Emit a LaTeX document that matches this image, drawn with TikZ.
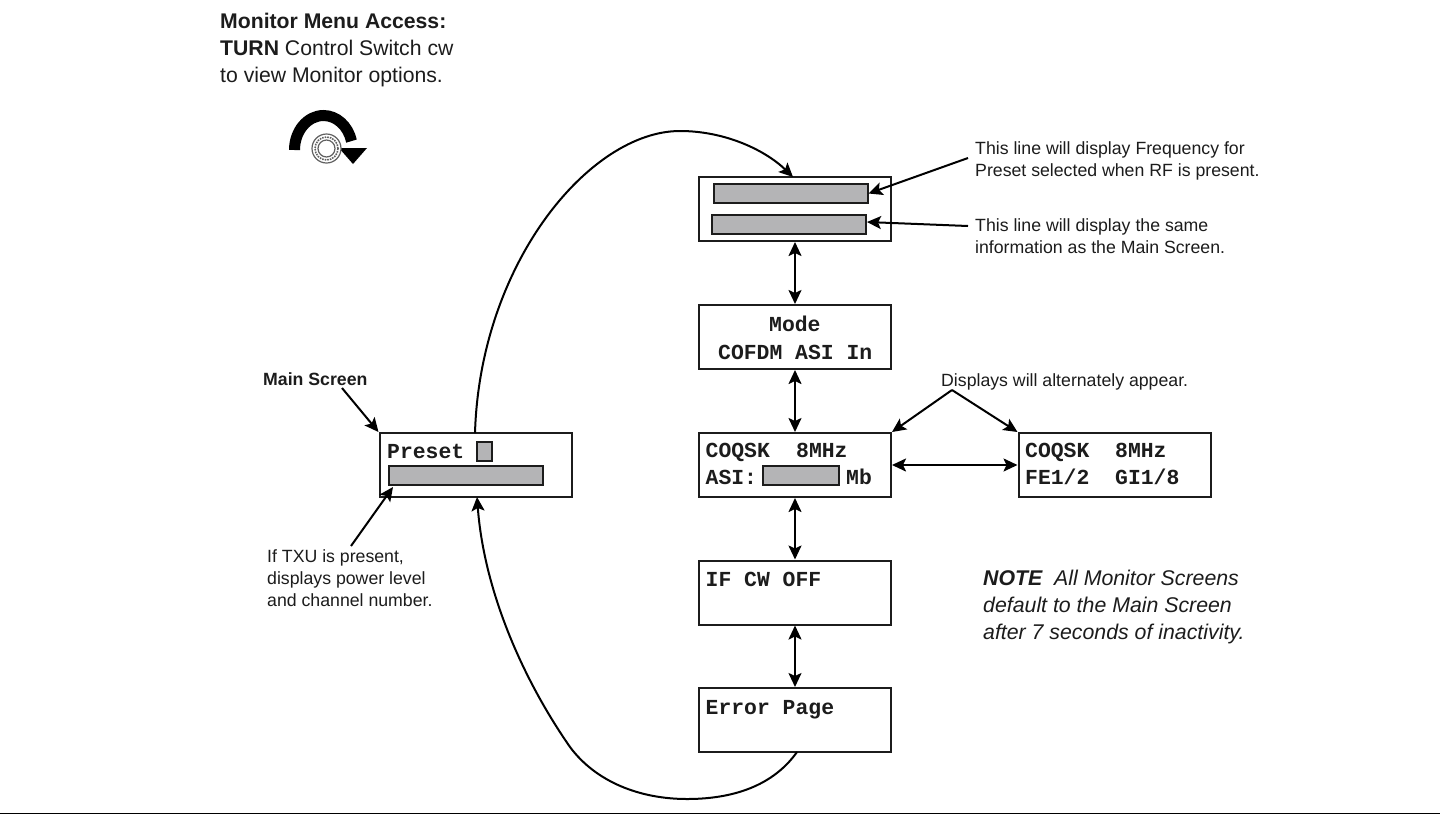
\documentclass[tikz,border=0pt]{standalone}
\usepackage{fontspec}
\setmainfont{Liberation Sans}
\setmonofont{Liberation Mono}
\usetikzlibrary{arrows.meta}
\definecolor{barfill}{HTML}{B4B4B6}
\definecolor{ink}{HTML}{1C1C1C}
\tikzset{
  x=1pt,y=-1pt,
  screen/.style={draw=ink,line width=2pt,fill=white,minimum width=192pt,minimum height=64pt,inner sep=0pt},
  bar/.style={draw=ink,line width=2pt,fill=barfill,inner sep=0pt},
  mono/.style={font=\fontsize{21.4}{24}\ttfamily\bfseries,text=ink,inner sep=0pt,anchor=base west},
  note/.style={font=\fontsize{17.7}{22.5}\selectfont,text=ink,inner sep=0pt,align=left,anchor=north west},
  link/.style={draw=black,line width=2pt,-{Stealth[length=14pt,width=13pt,inset=3pt]}},
  dlink/.style={draw=black,line width=2pt,{Stealth[length=14pt,width=13pt,inset=3pt]}-{Stealth[length=14pt,width=13pt,inset=3pt]}},
}
\begin{document}
\begin{tikzpicture}
\useasboundingbox (0,0) rectangle (1440,815);
\fill[white] (0,0) rectangle (1440,815);
\coordinate (ruleL) at (0,813.5);
\coordinate (ruleR) at (1440,813.5);
\draw[black,line width=1.8pt] (ruleL) -- (ruleR);

% screens
\node[screen] (top) at (795,209) {};
\node[screen] (mode) at (795,337) {};
\node[screen] (asi) at (795,465) {};
\node[screen] (alt) at (1114.5,465) {};
\node[screen] (ifcw) at (795,592.5) {};
\node[screen] (err) at (795,720) {};
\node[screen] (main) at (475.5,465) {};

% bars
\node[bar,minimum width=154pt,minimum height=19pt] (topA) at (790.5,193.5) {};
\node[bar,minimum width=154pt,minimum height=19pt] (topB) at (789,224.5) {};
\node[bar,minimum width=76pt,minimum height=19pt] (asibar) at (801,475) {};
\node[bar,minimum width=15pt,minimum height=19pt] (presetbox) at (484,451.5) {};
\node[bar,minimum width=154pt,minimum height=19pt] (mainbar) at (465.5,475) {};

% screen texts
\node[mono] (t1) at (769,331) {Mode};
\node[mono] (t2) at (718,359) {COFDM ASI In};
\node[mono] (t3) at (705.5,457) {COQSK};
\node[mono] (t3b) at (796,457) {8MHz};
\node[mono] (t4) at (705.5,484) {ASI:};
\node[mono] (t5) at (846,484) {Mb};
\node[mono] (t6) at (1025,457) {COQSK};
\node[mono] (t6b) at (1115,457) {8MHz};
\node[mono] (t7) at (1025,484) {FE1/2};
\node[mono] (t7b) at (1115,484) {GI1/8};
\node[mono] (t8) at (705.5,586) {IF CW OFF};
\node[mono] (t9) at (705.5,714) {Error Page};
\node[mono] (t10) at (387,458) {Preset};

% free text
\node[note,font=\fontsize{21.2}{27}\selectfont] (head) at (220,13) {\textbf{Monitor Menu Access:}\\\textbf{TURN} Control Switch cw\\to view Monitor options.};
\node[note] (freq) at (975,141) {This line will display Frequency for\\Preset selected when RF is present.};
\node[note] (same) at (975,218) {This line will display the same\\information as the Main Screen.};
\node[note] (disp) at (941,373) {Displays will alternately appear.};
\node[note,font=\fontsize{17.7}{23}\selectfont\bfseries] (mainlbl) at (263,372.5) {Main Screen};
\node[note,font=\fontsize{17.7}{22}\selectfont] (txu) at (267,549.5) {If TXU is present,\\displays power level\\and channel number.};
\node[note,font=\fontsize{21.3}{27}\selectfont\itshape] (nt) at (983,569.5) {\textbf{NOTE}\ \ All Monitor Screens\\default to the Main Screen\\after 7 seconds of inactivity.};

% vertical links
\draw[dlink] (top.south) -- (mode.north);
\draw[dlink] (mode.south) -- (asi.north);
\draw[dlink] (asi.south) -- (ifcw.north);
\draw[dlink] (ifcw.south) -- (err.north);
\draw[dlink] (asi.east) -- (alt.west);

% callouts
\coordinate (c1) at (968,158);
\coordinate (c2) at (968,226);
\coordinate (c3) at (952,390);
\coordinate (c4) at (342,388);
\coordinate (c5) at (351,546);
\coordinate (c5end) at (393,487);
\coordinate (c2end) at (867,222);
\draw[link] (c1) -- (topA.east);
\draw[link] (c2) -- (c2end);
\draw[link] (c3) -- (asi.north east);
\draw[link] (c3) -- (alt.north west);
\draw[link] (c4) -- (main.north west);
\draw[link] (c5) -- (c5end);

% big loops
\coordinate (mainTop) at (475,433);
\coordinate (mainBot) at (477,497);
\coordinate (errBot) at (797,752);
\coordinate (topEnd) at (793,177);
\draw[link] (mainTop) .. controls (480,263) and (590,131) .. (680,131) .. controls (725,131) and (765,150) .. (topEnd);
\draw[link] (errBot) .. controls (770,790) and (725,799) .. (687,799) .. controls (640,799) and (596,782) .. (570,747) .. controls (522,678) and (484,590) .. (mainBot);

% control switch symbol
\coordinate (knob) at (326.5,148.5);
\draw[black,line width=11pt] (294.5,150) arc[start angle=180,end angle=345,x radius=29,y radius=34.5];
\fill[black] (339,148) -- (367,148) -- (353,164) -- cycle;
\draw[ink!70,line width=1.2pt,fill=white] (knob) circle[radius=14.5];
\draw[ink!70,line width=1.6pt,densely dotted] (knob) circle[radius=11.5];
\draw[ink!70,line width=1.2pt,fill=white] (knob) circle[radius=8.5];
\end{tikzpicture}
\end{document}
